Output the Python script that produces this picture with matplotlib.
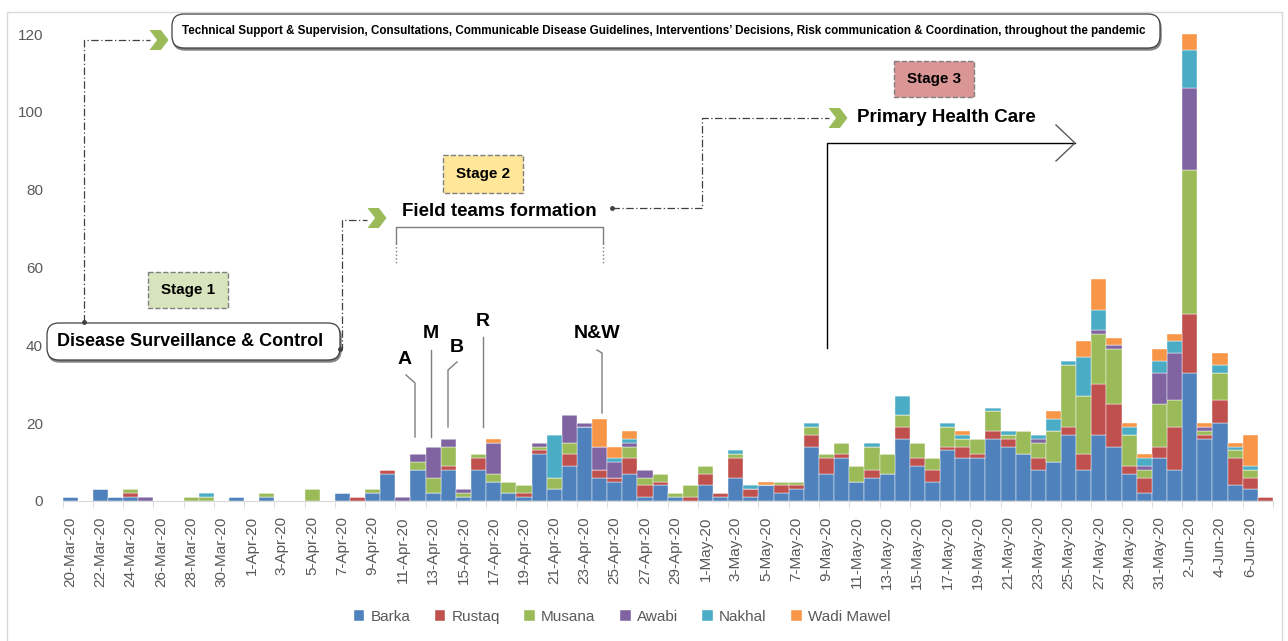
import numpy as np
import pandas as pd
import matplotlib.pyplot as plt
from matplotlib.patches import FancyBboxPatch, Polygon, Rectangle

W, H = 1288, 641

# daily cases by wilayat, 20-Mar-20 .. 7-Jun-20
dates = pd.date_range('2020-03-20', '2020-06-07')
date_labels = [f"{d.day}-{d.strftime('%b')}-20" for d in dates]

barka = [1, 0, 3, 1, 1, 0, 0, 0, 0, 0, 0, 1, 0, 1, 0, 0, 0, 0, 2, 0,
         2, 7, 0, 8, 2, 8, 1, 8, 5, 2, 1, 12, 3, 9, 19, 6, 5, 7, 1, 4,
         1, 0, 4, 1, 6, 1, 4, 2, 3, 14, 7, 11, 5, 6, 7, 16, 9, 5, 13, 11,
         11, 16, 14, 12, 8, 10, 17, 8, 17, 14, 7, 2, 11, 8, 33, 16, 20, 4, 3, 0]
rustaq = [0, 0, 0, 0, 1, 0, 0, 0, 0, 0, 0, 0, 0, 0, 0, 0, 0, 0, 0, 1,
          0, 1, 0, 0, 0, 1, 0, 3, 0, 0, 1, 1, 0, 3, 0, 2, 1, 4, 3, 1,
          0, 1, 3, 1, 5, 2, 0, 2, 1, 3, 4, 1, 0, 2, 0, 3, 2, 3, 1, 3,
          1, 2, 2, 0, 3, 0, 2, 4, 13, 11, 2, 4, 3, 11, 15, 1, 6, 7, 3, 1]
musana = [0, 0, 0, 0, 1, 0, 0, 0, 1, 1, 0, 0, 0, 1, 0, 0, 3, 0, 0, 0,
          1, 0, 0, 2, 4, 5, 1, 1, 2, 3, 2, 1, 3, 3, 0, 0, 0, 3, 2, 2,
          1, 3, 2, 0, 1, 0, 0, 1, 1, 2, 1, 3, 4, 6, 5, 3, 4, 3, 5, 2,
          4, 5, 1, 6, 4, 8, 16, 15, 13, 14, 8, 2, 11, 7, 37, 1, 7, 2, 2, 0]
awabi = [0, 0, 0, 0, 0, 1, 0, 0, 0, 0, 0, 0, 0, 0, 0, 0, 0, 0, 0, 0,
         0, 0, 1, 2, 8, 2, 1, 0, 8, 0, 0, 1, 0, 7, 1, 6, 4, 1, 2, 0,
         0, 0, 0, 0, 0, 0, 0, 0, 0, 0, 0, 0, 0, 0, 0, 0, 0, 0, 0, 0,
         0, 0, 0, 0, 1, 0, 0, 0, 1, 1, 0, 1, 8, 12, 21, 1, 0, 0, 0, 0]
nakhal = [0, 0, 0, 0, 0, 0, 0, 0, 0, 1, 0, 0, 0, 0, 0, 0, 0, 0, 0, 0,
          0, 0, 0, 0, 0, 0, 0, 0, 0, 0, 0, 0, 11, 0, 0, 0, 1, 1, 0, 0,
          0, 0, 0, 0, 1, 1, 0, 0, 0, 1, 0, 0, 0, 1, 0, 5, 0, 0, 1, 1,
          0, 1, 1, 0, 1, 3, 1, 10, 5, 0, 2, 2, 3, 3, 10, 0, 2, 1, 1, 0]
wadi_mawel = [0, 0, 0, 0, 0, 0, 0, 0, 0, 0, 0, 0, 0, 0, 0, 0, 0, 0, 0, 0,
              0, 0, 0, 0, 0, 0, 0, 0, 1, 0, 0, 0, 0, 0, 0, 7, 3, 2, 0, 0,
              0, 0, 0, 0, 0, 0, 1, 0, 0, 0, 0, 0, 0, 0, 0, 0, 0, 0, 0, 1,
              0, 0, 0, 0, 0, 2, 0, 4, 8, 2, 1, 1, 3, 2, 4, 1, 3, 1, 8, 0]

series = [('Barka', barka, '#4F81BD'), ('Rustaq', rustaq, '#C0504D'),
          ('Musana', musana, '#9BBB59'), ('Awabi', awabi, '#8064A2'),
          ('Nakhal', nakhal, '#4BACC6'), ('Wadi Mawel', wadi_mawel, '#F79646')]

BOLD = ['Liberation Sans', 'DejaVu Sans']
plt.rcParams['font.family'] = ['Liberation Sans', 'DejaVu Sans']

fig = plt.figure(figsize=(W / 100, H / 100), dpi=100)
ax = fig.add_axes([62.5 / W, 1 - 501 / H, (1272.9 - 62.5) / W, 467 / H])

x = np.arange(len(dates))
bottom = np.zeros(len(dates))
for name, vals, col in series:
    vals = np.array(vals)
    ax.bar(x, vals, width=1.0, bottom=bottom, color=col, edgecolor='white',
           linewidth=0.3, label=name)
    bottom += vals

ax.set_xlim(-0.5, len(dates) - 0.5)
ax.set_ylim(0, 120)
ax.set_yticks(np.arange(0, 121, 20))
ax.tick_params(axis='y', length=0, pad=14, labelsize=11, labelcolor='#595959')
ax.set_xticks(x[::2])
ax.set_xticklabels(date_labels[::2], rotation=90)
ax.set_xticks(np.arange(-0.5, len(dates), 2), minor=True)
ax.tick_params(axis='x', which='major', length=0, pad=11, labelsize=11, labelcolor='#595959')
ax.tick_params(axis='x', which='minor', length=5, color='#d9d9d9')
for s in ['top', 'right', 'left']:
    ax.spines[s].set_visible(False)
ax.spines['bottom'].set_color('#d9d9d9')
ax.patch.set_alpha(0)

handles, labs = ax.get_legend_handles_labels()
leg = fig.legend(handles, labs, loc='center', bbox_to_anchor=(622 / W, 1 - 617 / H),
                 ncol=6, frameon=False, fontsize=11, handlelength=0.7, handleheight=0.7,
                 handletextpad=0.4, columnspacing=1.6)
for t in leg.get_texts():
    t.set_color('#595959')

# overlay in pixel coordinates for the diagram
ov = fig.add_axes([0, 0, 1, 1])
ov.set_xlim(0, W)
ov.set_ylim(H, 0)
ov.axis('off')

ov.add_patch(Rectangle((7, 12), 1275, 640, fill=False, ec='#d9d9d9', lw=1))


def scroll(x0, y0, x1, y1):
    ov.add_patch(FancyBboxPatch((x0 + 1, y0 + 2), x1 - x0, y1 - y0,
                                boxstyle='round,pad=0,rounding_size=12',
                                fc='#808080', ec='#808080', lw=1))
    ov.add_patch(FancyBboxPatch((x0, y0), x1 - x0, y1 - y0,
                                boxstyle='round,pad=0,rounding_size=12',
                                fc='white', ec='#404040', lw=0.9))


def chevron(cx, cy, w=19, h=20):
    pts = [(cx - w / 2, cy - h / 2), (cx + w * 0.1, cy - h / 2), (cx + w / 2, cy),
           (cx + w * 0.1, cy + h / 2), (cx - w / 2, cy + h / 2), (cx - w * 0.1, cy)]
    ov.add_patch(Polygon(pts, closed=True, fc='#9BBB59', ec='none'))


def stage(x0, y0, x1, y1, col, txt):
    ov.add_patch(Rectangle((x0, y0), x1 - x0, y1 - y0, fc=col, ec='#7f7f7f',
                           lw=1, ls='--'))
    ov.text((x0 + x1) / 2, (y0 + y1) / 2, txt, ha='center', va='center',
            fontsize=11, fontweight='bold', family=BOLD)


def dashdot(xs, ys):
    ov.plot(xs, ys, color='#404040', lw=0.9, ls=(0, (6, 2, 1, 2)))
    ov.plot(xs[0], ys[0], 'o', ms=2.5, color='#404040')


# top banner
scroll(172, 14, 1160, 48)
ov.text(664, 31, "Technical Support & Supervision, Consultations, Communicable Disease Guidelines, "
        "Interventions\u2019 Decisions, Risk communication & Coordination, throughout the pandemic",
        ha='center', va='center', fontsize=8.4, fontweight='bold', family=BOLD)
dashdot([84, 84, 150], [322, 40, 40])
chevron(159, 40)

# stage 1
stage(148, 272, 228, 308, '#D7E4BD', 'Stage 1')
scroll(47, 323, 340, 360)
ov.text(190, 341, 'Disease Surveillance & Control', ha='center', va='center',
        fontsize=13, fontweight='bold', family=BOLD)
dashdot([340, 342, 342, 367], [349, 349, 220, 220])
chevron(377, 218)

# stage 2
stage(443, 155, 523, 193, '#FFE699', 'Stage 2')
ov.text(499, 212, 'Field teams formation', ha='center', va='center',
        fontsize=13.5, fontweight='bold', family=BOLD)
ov.plot([396, 396, 603, 603], [243, 227, 227, 243], color='#7f7f7f', lw=1)
ov.plot([396, 396], [243, 265], color='#7f7f7f', lw=1, ls=':')
ov.plot([603, 603], [243, 265], color='#7f7f7f', lw=1, ls=':')
dashdot([612, 702, 702, 829], [208, 208, 118, 118])
chevron(838, 118)

# stage 3
stage(894, 61, 974, 97, '#D99694', 'Stage 3')
ov.text(946, 117, 'Primary Health Care', ha='center', va='center',
        fontsize=13.5, fontweight='bold', family=BOLD)
ov.plot([827, 827, 1075], [348, 143, 143], color='black', lw=1)
ov.plot([1056, 1075, 1056], [125, 143, 161], color='#595959', lw=1)

# intervention markers
marks = [('A', (405, 360), [406, 415, 415], [375, 383, 437]),
         ('M', (431, 333), [431, 431], [350, 437]),
         ('B', (457, 347), [457, 448, 448], [362, 370, 427]),
         ('R', (483, 321), [483, 483], [337, 427]),
         ('N&W', (597, 333), [597, 602, 602], [350, 353, 413])]
for txt, (tx, ty), lx, ly in marks:
    ov.text(tx, ty, txt, ha='center', va='center', fontsize=14,
            fontweight='bold', family=BOLD)
    ov.plot(lx, ly, color='#7f7f7f', lw=1)

fig.savefig('out.png', dpi=100)
